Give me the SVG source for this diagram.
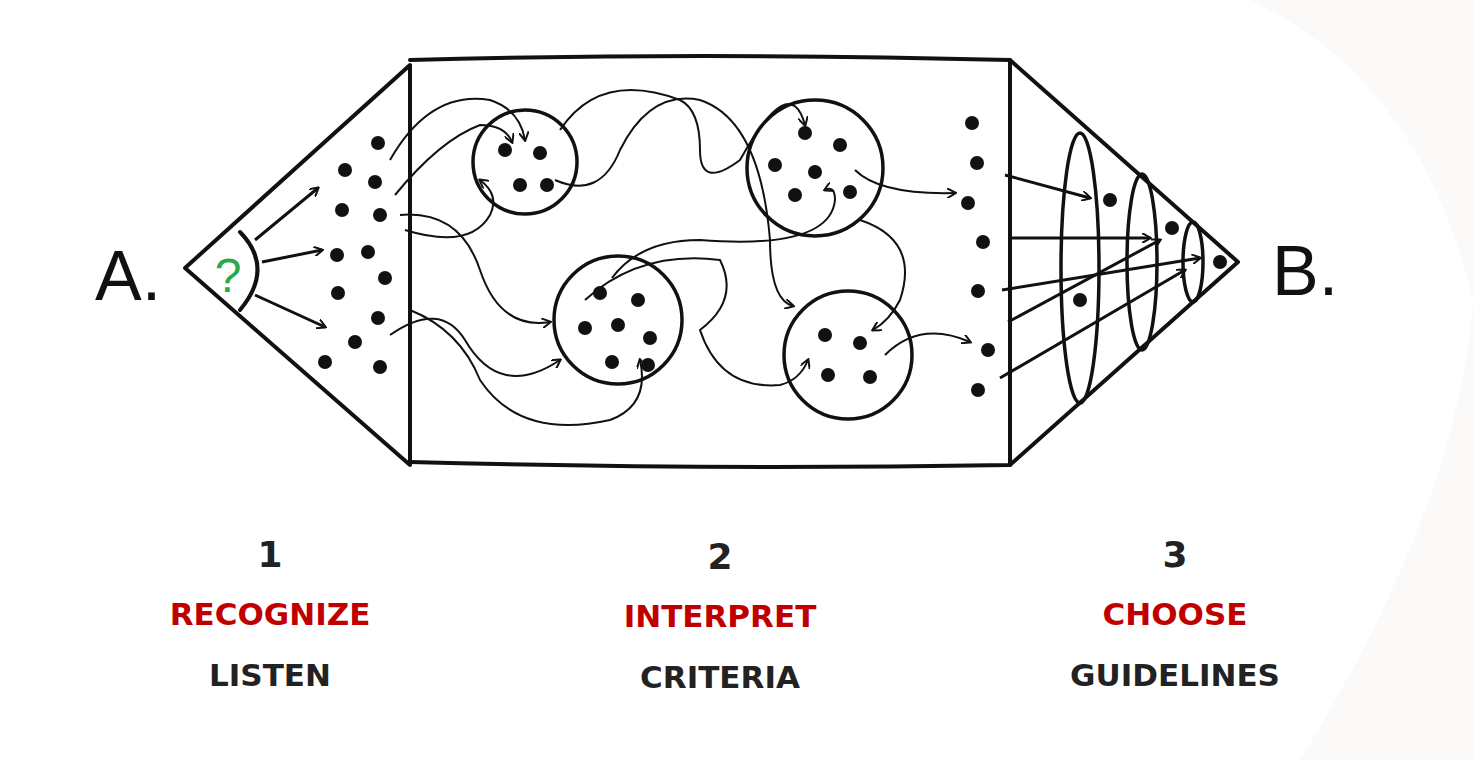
<svg xmlns="http://www.w3.org/2000/svg" width="1473" height="760" viewBox="0 0 1473 760">
<style>
.ln{fill:none;stroke:#111;stroke-width:4;stroke-linecap:round;stroke-linejoin:round}
.cr{fill:none;stroke:#111;stroke-width:3.5}
.ar{fill:none;stroke:#111;stroke-width:2;marker-end:url(#ah)}
.ar2{fill:none;stroke:#111;stroke-width:3;marker-end:url(#ah)}
.d{fill:#111}
.num{font-family:"DejaVu Sans",sans-serif;font-weight:bold;font-size:36px;fill:#222;text-anchor:middle}
.red{font-family:"DejaVu Sans",sans-serif;font-weight:bold;font-size:31px;fill:#c00000;text-anchor:middle}
.blk{font-family:"DejaVu Sans",sans-serif;font-weight:bold;font-size:31px;fill:#222;text-anchor:middle}
.big{font-family:"Liberation Sans",sans-serif;font-size:70px;fill:#111}
</style>
<defs><marker id="ah" markerWidth="10" markerHeight="10" refX="8" refY="5" orient="auto" markerUnits="userSpaceOnUse"><path d="M0,0 L9,5 L0,10" fill="none" stroke="#111" stroke-width="2"/></marker></defs>
<rect width="1473" height="760" fill="#fff"/>
<g id="bg" fill="#f7f2f1">
<path d="M660,0 H1473 V760 H1300 Q1460,500 1473,300 Q1420,80 1250,0 Z" opacity="0.4"/>
</g>
<g id="frame">
<path class="ln" d="M185,268 L410,65 L410,465 Z"/>
<path class="ln" d="M410,60 Q700,52 1010,60 L1010,465 Q700,470 410,462"/>
<path class="ln" d="M1010,60 L1238,262 L1010,465"/>
<text class="big" x="95" y="300">A.</text>
<text class="big" x="1272" y="295">B.</text>
</g>
<g id="question">
<path class="ln" d="M240,232 Q275,268 240,310"/>
<text x="228" y="292" font-family="Liberation Sans,sans-serif" font-size="48" fill="#2aa84a" text-anchor="middle">?</text>
</g>
<g id="leftdots">
<circle class="d" cx="378" cy="143" r="7"/><circle class="d" cx="345" cy="170" r="7"/><circle class="d" cx="375" cy="182" r="7"/>
<circle class="d" cx="342" cy="210" r="7"/><circle class="d" cx="380" cy="215" r="7"/><circle class="d" cx="337" cy="255" r="7"/>
<circle class="d" cx="368" cy="252" r="7"/><circle class="d" cx="385" cy="278" r="7"/><circle class="d" cx="338" cy="293" r="7"/>
<circle class="d" cx="378" cy="318" r="7"/><circle class="d" cx="355" cy="342" r="7"/><circle class="d" cx="325" cy="362" r="7"/><circle class="d" cx="380" cy="367" r="7"/>
</g>
<g id="c1"><circle class="cr" cx="525" cy="162" r="52"/>
<circle class="d" cx="505" cy="150" r="7"/><circle class="d" cx="540" cy="153" r="7"/><circle class="d" cx="520" cy="185" r="7"/><circle class="d" cx="547" cy="185" r="7"/></g>
<g id="c2"><circle class="cr" cx="815" cy="168" r="68"/>
<circle class="d" cx="805" cy="133" r="7"/><circle class="d" cx="840" cy="145" r="7"/><circle class="d" cx="775" cy="165" r="7"/><circle class="d" cx="815" cy="172" r="7"/><circle class="d" cx="850" cy="192" r="7"/><circle class="d" cx="795" cy="195" r="7"/></g>
<g id="c3"><circle class="cr" cx="618" cy="320" r="64"/>
<circle class="d" cx="600" cy="293" r="7"/><circle class="d" cx="638" cy="300" r="7"/><circle class="d" cx="585" cy="328" r="7"/><circle class="d" cx="618" cy="325" r="7"/><circle class="d" cx="650" cy="338" r="7"/><circle class="d" cx="612" cy="362" r="7"/><circle class="d" cx="648" cy="365" r="7"/></g>
<g id="c4"><circle class="cr" cx="848" cy="355" r="64"/>
<circle class="d" cx="825" cy="335" r="7"/><circle class="d" cx="860" cy="343" r="7"/><circle class="d" cx="828" cy="375" r="7"/><circle class="d" cx="870" cy="377" r="7"/></g>
<g id="rightdots">
<circle class="d" cx="972" cy="123" r="7"/><circle class="d" cx="977" cy="163" r="7"/><circle class="d" cx="968" cy="203" r="7"/><circle class="d" cx="983" cy="242" r="7"/><circle class="d" cx="978" cy="291" r="7"/><circle class="d" cx="988" cy="350" r="7"/><circle class="d" cx="978" cy="390" r="7"/>
</g>
<g id="cone">
<ellipse class="cr" cx="1080" cy="268" rx="19" ry="135"/>
<ellipse class="cr" cx="1142" cy="262" rx="15" ry="88"/>
<ellipse class="cr" cx="1193" cy="262" rx="10" ry="40"/>
<circle class="d" cx="1110" cy="200" r="7"/><circle class="d" cx="1172" cy="228" r="7"/><circle class="d" cx="1220" cy="262" r="7"/><circle class="d" cx="1080" cy="300" r="7"/>
</g>
<g id="connectors">
<path class="ar2" d="M255,240 L318,188"/>
<path class="ar2" d="M262,262 L322,250"/>
<path class="ar2" d="M255,295 L325,327"/>
<path class="ar" d="M390,160 Q430,90 490,100 Q520,110 525,140"/>
<path class="ar" d="M395,195 Q440,140 480,125 Q505,125 512,142"/>
<path class="ar" d="M405,230 Q470,250 490,215 Q500,195 480,180"/>
<path class="ar" d="M400,215 Q460,210 480,270 Q500,330 550,322"/>
<path class="ar" d="M390,335 Q440,300 465,340 Q500,400 560,360"/>
<path class="ar" d="M410,310 Q460,330 480,380 Q520,440 610,420 Q650,405 640,360"/>
<path class="ar" d="M555,180 Q600,200 620,150 Q650,90 700,100 Q760,120 770,240 Q770,300 793,306"/>
<path class="ar" d="M560,130 Q600,70 680,100 Q700,110 700,150 Q700,190 740,160 Q790,70 805,125"/>
<path class="ar" d="M612,278 Q640,240 700,240 Q830,250 835,200 Q835,185 825,190"/>
<path class="ar" d="M585,300 Q640,250 720,260 Q740,300 700,330 Q720,390 780,385 Q800,380 808,360"/>
<path class="ar" d="M855,170 Q880,195 955,193"/>
<path class="ar" d="M860,220 Q920,240 900,300 Q890,320 873,330"/>
<path class="ar" d="M885,355 Q920,320 970,342"/>
<path class="ar2" d="M1005,175 L1090,198"/>
<path class="ar2" d="M1008,238 L1150,238"/>
<path class="ar2" d="M1002,290 L1200,258"/>
<path class="ar2" d="M1008,322 L1160,240"/>
<path class="ar2" d="M1000,378 L1185,270"/>
</g>
<g id="labels">
<text class="num" x="270" y="567">1</text><text class="red" x="270" y="625">RECOGNIZE</text><text class="blk" x="270" y="686">LISTEN</text>
<text class="num" x="720" y="569">2</text><text class="red" x="720" y="627">INTERPRET</text><text class="blk" x="720" y="688">CRITERIA</text>
<text class="num" x="1175" y="567">3</text><text class="red" x="1175" y="625">CHOOSE</text><text class="blk" x="1175" y="686">GUIDELINES</text>
</g>
</svg>
